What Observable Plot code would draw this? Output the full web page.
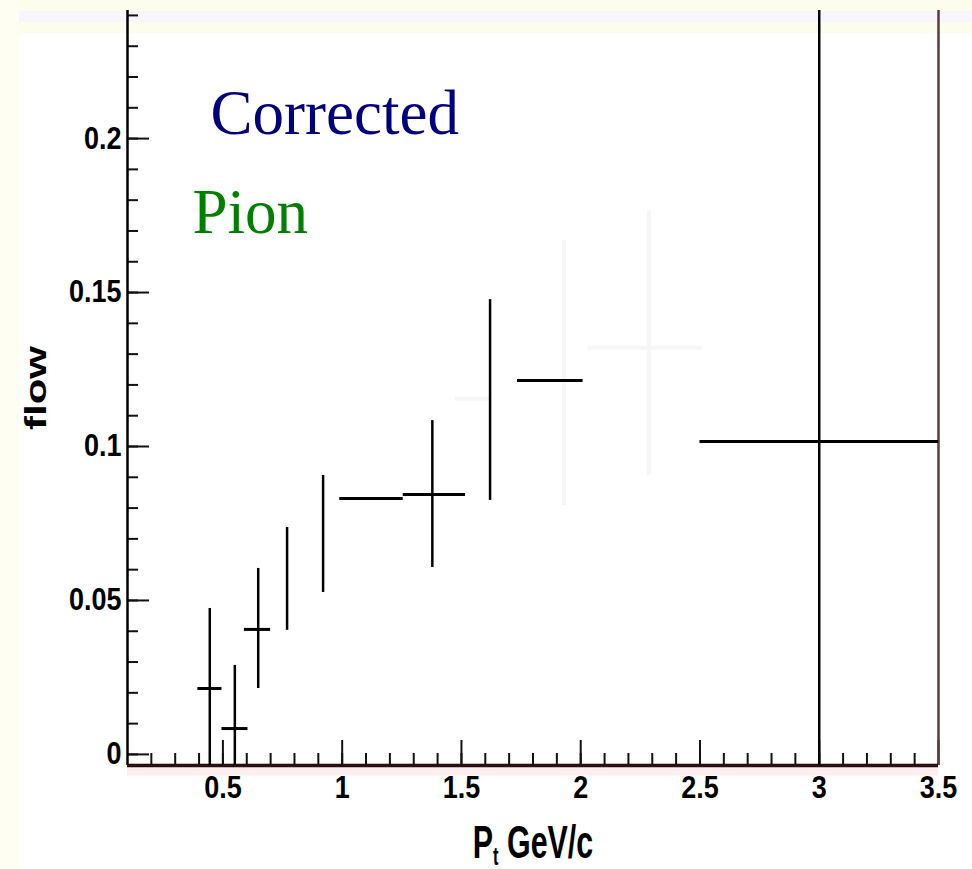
<!DOCTYPE html>
<html><head><meta charset="utf-8">
<script src="https://cdn.jsdelivr.net/npm/d3@7"></script>
<script src="https://cdn.jsdelivr.net/npm/@observablehq/plot@0.6"></script>
<style>
body{margin:0;
  background:
    linear-gradient(to right, #fefef3 0, #fefef3 19px, transparent 19px),
    linear-gradient(to bottom, #fdfdee 0, #fdfdee 11px, #f7f5fd 11px, #f7f5fd 22px, #fcfdec 22px, #fcfdec 33px, #fff 33px);
}
</style>
</head><body><div id="chart"></div>
<script>
// ---- data ----
const ptX   = [0.445, 0.55, 0.648, 0.769, 0.92, 1.123, 1.378, 1.62, 1.87, 3.0];
const ptY   = [0.0214, 0.0084, 0.0406, 0.057, 0.0716, 0.0831, 0.0844, 0.1151, 0.1214, 0.1016];
const ptXLo = [0.395, 0.496, 0.59, null, null, 0.99, 1.256, null, 1.735, 2.5];
const ptXHi = [0.496, 0.605, 0.70, null, null, 1.256, 1.517, null, 2.01, 3.5];
const ptYLo = [-0.005, -0.0121, 0.0214, 0.0403, 0.0526, null, 0.0607, 0.0825, null, -0.05];
const ptYHi = [0.0474, 0.0289, 0.0604, 0.0737, 0.0906, null, 0.1084, 0.1477, null, 0.30];

// faint ghost strokes visible in the scan
const ghostVX  = [1.93, 2.286];
const ghostVLo = [0.0808, 0.0906];
const ghostVHi = [0.1669, 0.1766];
const ghostHY  = [0.1321, 0.1156];
const ghostHLo = [2.03, 1.475];
const ghostHHi = [2.51, 1.62];

const xTicksMajor = [0.5, 1, 1.5, 2, 2.5, 3, 3.5];
const xTickLabels = ["0.5", "1", "1.5", "2", "2.5", "3", "3.5"];
const yTicksMajor = [0, 0.05, 0.1, 0.15, 0.2];
const yTickLabels = ["0", "0.05", "0.1", "0.15", "0.2"];
const xTicksMinor = d3.range(2, 35).map(i => i / 10);
const yTicksMinor = d3.range(0, 25).map(i => i / 100);

const noteText  = ["Corrected", "Pion"];
const noteX     = [0.448, 0.372];
const noteY     = [0.2016, 0.1692];
const noteColor = ["#00007f", "#007f00"];

const xLabel = "P GeV/c";
const yLabel = "flow";

// ---- layout ----
const W = 972, H = 869, mL = 127, mR = 34, mT = 10, mB = 104;
const xDom = [0.1, 3.5], yDom = [-0.0036, 0.2416];
const kx = (xDom[1] - xDom[0]) / (W - mL - mR);
const ky = (yDom[1] - yDom[0]) / (H - mT - mB);

const pts = ptX.map((x, i) => ({x, y: ptY[i], xlo: ptXLo[i], xhi: ptXHi[i], ylo: ptYLo[i], yhi: ptYHi[i]}));
const hPts = pts.filter(d => d.xlo != null);
const vPts = pts.filter(d => d.ylo != null);
const notes = noteText.map((t, i) => ({t, x: noteX[i], y: noteY[i], c: noteColor[i]}));
const tickFont = "Liberation Sans, Arial, Helvetica, sans-serif";
const y0 = yDom[0];

const plot = Plot.plot({
  width: W, height: H,
  marginLeft: mL, marginRight: mR, marginTop: mT, marginBottom: mB,
  x: {domain: xDom, axis: null},
  y: {domain: yDom, axis: null},
  style: {background: "transparent", overflow: "visible"},
  marks: [
    Plot.ruleY([y0], {x1: xDom[0], x2: xDom[1], stroke: "#fdeef0", strokeWidth: 12, dy: 4}),
    Plot.ruleX(ghostVX, {x: d => d, y1: (d, i) => ghostVLo[i], y2: (d, i) => ghostVHi[i], stroke: "#f6f6f6", strokeWidth: 4}),
    Plot.ruleY(ghostHY, {y: d => d, x1: (d, i) => ghostHLo[i], x2: (d, i) => ghostHHi[i], stroke: "#f6f6f6", strokeWidth: 4}),
    Plot.ruleX(xTicksMinor, {x: d => d, y1: y0, y2: y0 + 12 * ky, stroke: "#111", strokeWidth: 2}),
    Plot.ruleX(xTicksMajor, {x: d => d, y1: y0, y2: y0 + 25 * ky, stroke: "#111", strokeWidth: 2}),
    Plot.ruleY(yTicksMinor, {y: d => d, x1: xDom[0], x2: xDom[0] + 11 * kx, stroke: "#111", strokeWidth: 2}),
    Plot.ruleY(yTicksMajor, {y: d => d, x1: xDom[0], x2: xDom[0] + 22 * kx, stroke: "#111", strokeWidth: 2}),
    Plot.ruleX([xDom[0]], {stroke: "#000", strokeWidth: 2.5}),
    Plot.ruleX([xDom[1]], {stroke: "#5a3c3c", strokeWidth: 2.5}),
    Plot.ruleY([y0], {x1: xDom[0], x2: xDom[1], stroke: "#2a0f14", strokeWidth: 3.5}),
    Plot.ruleY(hPts, {y: "y", x1: "xlo", x2: "xhi", stroke: "#000", strokeWidth: 3, clip: true}),
    Plot.ruleX(vPts, {x: "x", y1: "ylo", y2: "yhi", stroke: "#000", strokeWidth: 2.5, clip: true}),
    Plot.text(yTicksMajor, {x: xDom[0], y: d => d, text: yTickLabels, textAnchor: "end", dx: -6,
      fontSize: 31, fontWeight: "bold", fontFamily: tickFont, fill: "#000"}),
    Plot.text(xTicksMajor, {x: d => d, y: y0, text: xTickLabels, lineAnchor: "top", dy: 10,
      fontSize: 31, fontWeight: "bold", fontFamily: tickFont, fill: "#000"}),
    Plot.text([xLabel], {frameAnchor: "bottom", lineAnchor: "bottom", dy: 92, fontSize: 46,
      fontWeight: "bold", fontFamily: tickFont, fill: "#000"}),
    Plot.text([yLabel], {frameAnchor: "left", rotate: -90, textAnchor: "middle", lineAnchor: "bottom", dx: -82, fontSize: 30,
      fontWeight: "bold", fontFamily: tickFont, fill: "#000"}),
    Plot.text(notes, {x: "x", y: "y", text: "t", fill: "c", textAnchor: "start", lineAnchor: "bottom",
      fontSize: 63, fontFamily: "Liberation Serif, Times New Roman, serif"})
  ]
});

function squeezeEl(t, sx) {
  const tr = t.getAttribute("transform");
  if (tr) {
    t.setAttribute("transform", tr + ` scale(${sx},1)`);
  } else {
    const x = parseFloat(t.getAttribute("x")) || 0;
    t.setAttribute("transform", `translate(${x},0) scale(${sx},1) translate(${-x},0)`);
  }
}
const ns = "http://www.w3.org/2000/svg";
Array.from(plot.querySelectorAll("text")).forEach(t => {
  const s = t.textContent;
  if (yTickLabels.includes(s) || xTickLabels.includes(s)) squeezeEl(t, 0.87);
  else if (s === yLabel) squeezeEl(t, 1.4);
  else if (s === xLabel) {
    t.textContent = "P";
    const sub = document.createElementNS(ns, "tspan");
    sub.setAttribute("font-size", "25"); sub.setAttribute("dy", "7"); sub.textContent = "t";
    const rest = document.createElementNS(ns, "tspan");
    rest.setAttribute("dy", "-7"); rest.textContent = " GeV/c";
    t.appendChild(sub); t.appendChild(rest);
    squeezeEl(t, 0.66);
  }
});
document.getElementById("chart").appendChild(plot);
</script>
</body></html>
